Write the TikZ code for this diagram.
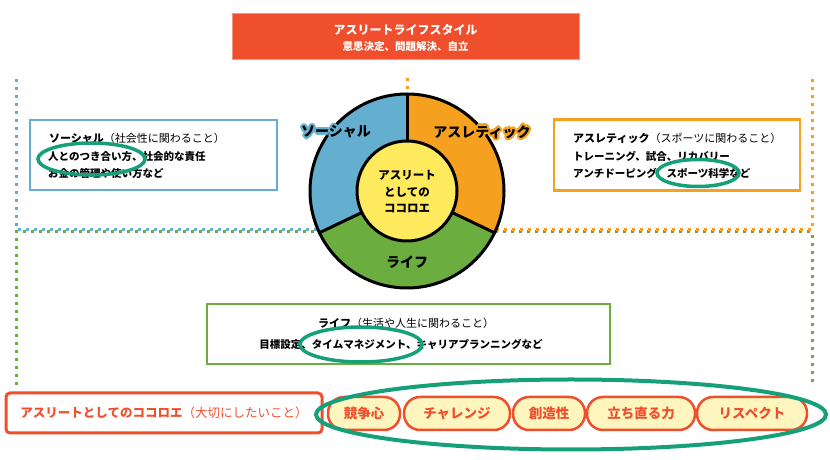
\documentclass[tikz,border=0pt]{standalone}
\usepackage{fontspec}
\setmainfont{Noto Sans CJK JP}
\definecolor{cblue}{HTML}{64AECF}
\definecolor{corange}{HTML}{F5A01E}
\definecolor{cgreen}{HTML}{6BAE3F}
\definecolor{cyellow}{HTML}{FFE95C}
\definecolor{cred}{HTML}{EF4F2D}
\definecolor{cpill}{HTML}{FFF5BE}
\definecolor{cteal}{HTML}{16A07A}
\tikzset{
  dotline/.style={line width=3pt, dash pattern=on 3pt off 5pt},
  framebox/.style={draw=#1, line width=2.5pt, fill=white, inner sep=0pt},
  pill/.style={draw=cred, fill=cpill, line width=2.5pt, rounded corners=16pt,
    minimum height=33pt, inner sep=0pt, text=cred, font=\fontsize{13.5}{16}\selectfont\bfseries},
  mark ring/.style={draw=cteal, line width=3.5pt},
  bodytext/.style={anchor=west, inner sep=0pt, font=\fontsize{10.5}{12}\selectfont\bfseries},
  headtext/.style={anchor=west, inner sep=0pt, font=\fontsize{11}{13}\selectfont},
  pielabel/.style={inner sep=0pt, font=\fontsize{14}{16}\selectfont\bfseries},
}
\begin{document}
\begin{tikzpicture}[x=1pt,y=1pt]
\useasboundingbox (0,0) rectangle (830,460);
\fill[white] (0,0) rectangle (830,460);

% dotted regions
\draw[dotline, cgreen] (16,75) -- (16,228) -- (812,228) -- (812,75);
\draw[dotline, cblue] (16,381) -- (16,230.5) -- (406,230.5);
\draw[dotline, corange] (812,381) -- (812,230.5) -- (407,230.5);
\draw[dotline, corange] (407,382) -- (407,362);

% title
\node[fill=cred, draw=cred!60!white, line width=1pt, minimum width=347pt, minimum height=46pt] (title) at (405.5,423) {};
\node[text=white, inner sep=0pt, font=\fontsize{12}{14}\selectfont\bfseries] (title1) at (405.5,430.5) {アスリートライフスタイル};
\node[text=white, inner sep=0pt, font=\fontsize{10.5}{12}\selectfont\bfseries] (title2) at (405.5,413) {意思決定、問題解決、自立};

% pie
\coordinate (C) at (407,269);
\fill[cblue] (C) -- ++(90:97) arc[start angle=90,end angle=205.5,radius=97] -- cycle;
\fill[cgreen] (C) -- ++(205.5:97) arc[start angle=205.5,end angle=334.5,radius=97] -- cycle;
\fill[corange] (C) -- ++(-25.5:97) arc[start angle=-25.5,end angle=90,radius=97] -- cycle;
\draw[line width=3pt] (C) circle[radius=97];
\foreach \a in {90,205.5,334.5} \draw[line width=3pt] (C) ++(\a:50) -- ++(\a:47);
\node[circle, fill=cyellow, draw, line width=3pt, minimum size=100pt, inner sep=0pt] (core) at (C) {};
\node[align=center, inner sep=0pt, font=\fontsize{11.5}{16.5}\selectfont\bfseries] (coretext) at (407,268) {アスリート\\としての\\ココロエ};

% pie labels with halo
\foreach \a in {0,30,...,330} {
  \path (336,328) ++(\a:2.2pt) node[pielabel, text=cblue] (sh\a) {ソーシャル};
  \path (482,328) ++(\a:2.2pt) node[pielabel, text=corange] (ah\a) {アスレティック};
}
\node[pielabel] (slabel) at (336,328) {ソーシャル};
\node[pielabel] (alabel) at (482,328) {アスレティック};
\node[pielabel] (llabel) at (407,198) {ライフ};

% social box
\node[framebox=cblue, minimum width=247pt, minimum height=70pt] (socialbox) at (153.5,305) {};
\node[headtext] (s1) at (49,322) {\textbf{ソーシャル}（社会性に関わること）};
\node[bodytext] (s2) at (48,303) {人とのつき合い方、社会的な責任};
\node[bodytext] (s3) at (48,286.5) {お金の管理や使い方など};
\draw[mark ring] (91.5,301) ellipse[x radius=53.5, y radius=16];

% athletic box
\node[framebox=corange, minimum width=246pt, minimum height=71pt] (athbox) at (677,305) {};
\node[headtext] (a1) at (573,322) {\textbf{アスレティック}（スポーツに関わること）};
\node[bodytext] (a2) at (573,304) {トレーニング、試合、リカバリー};
\node[bodytext] (a3) at (573,287) {アンチドーピング、スポーツ科学など};
\draw[mark ring] (698,287) ellipse[x radius=41, y radius=13.5];

% life box
\node[framebox=cgreen, minimum width=403pt, minimum height=60pt] (lifebox) at (408.5,126) {};
\node[inner sep=0pt, font=\fontsize{11}{13}\selectfont] (l1) at (406,137) {\textbf{ライフ}（生活や人生に関わること）};
\node[inner sep=0pt, font=\fontsize{10.5}{12}\selectfont\bfseries] (l2) at (401,116) {目標設定、タイムマネジメント、キャリアプランニングなど};
\draw[mark ring] (361,115.5) ellipse[x radius=61, y radius=17.5];

% bottom row
\node[draw=cred, line width=3pt, rounded corners=4pt, fill=white, minimum width=316pt, minimum height=40pt] (redbox) at (164,47) {};
\node[inner sep=0pt, text=cred, font=\fontsize{12.5}{14}\selectfont] (redtext) at (164,47) {\textbf{アスリートとしてのココロエ}（大切にしたいこと）};
\node[pill, minimum width=72pt] (p1) at (364,46.5) {競争心};
\node[pill, minimum width=106pt] (p2) at (457,46.5) {チャレンジ};
\node[pill, minimum width=72pt] (p3) at (549,46.5) {創造性};
\node[pill, minimum width=108pt] (p4) at (641,46.5) {立ち直る力};
\node[pill, minimum width=110pt] (p5) at (752,46.5) {リスペクト};
\draw[mark ring, line width=4pt] (571,45.5) ellipse[x radius=255, y radius=35];
\end{tikzpicture}
\end{document}
